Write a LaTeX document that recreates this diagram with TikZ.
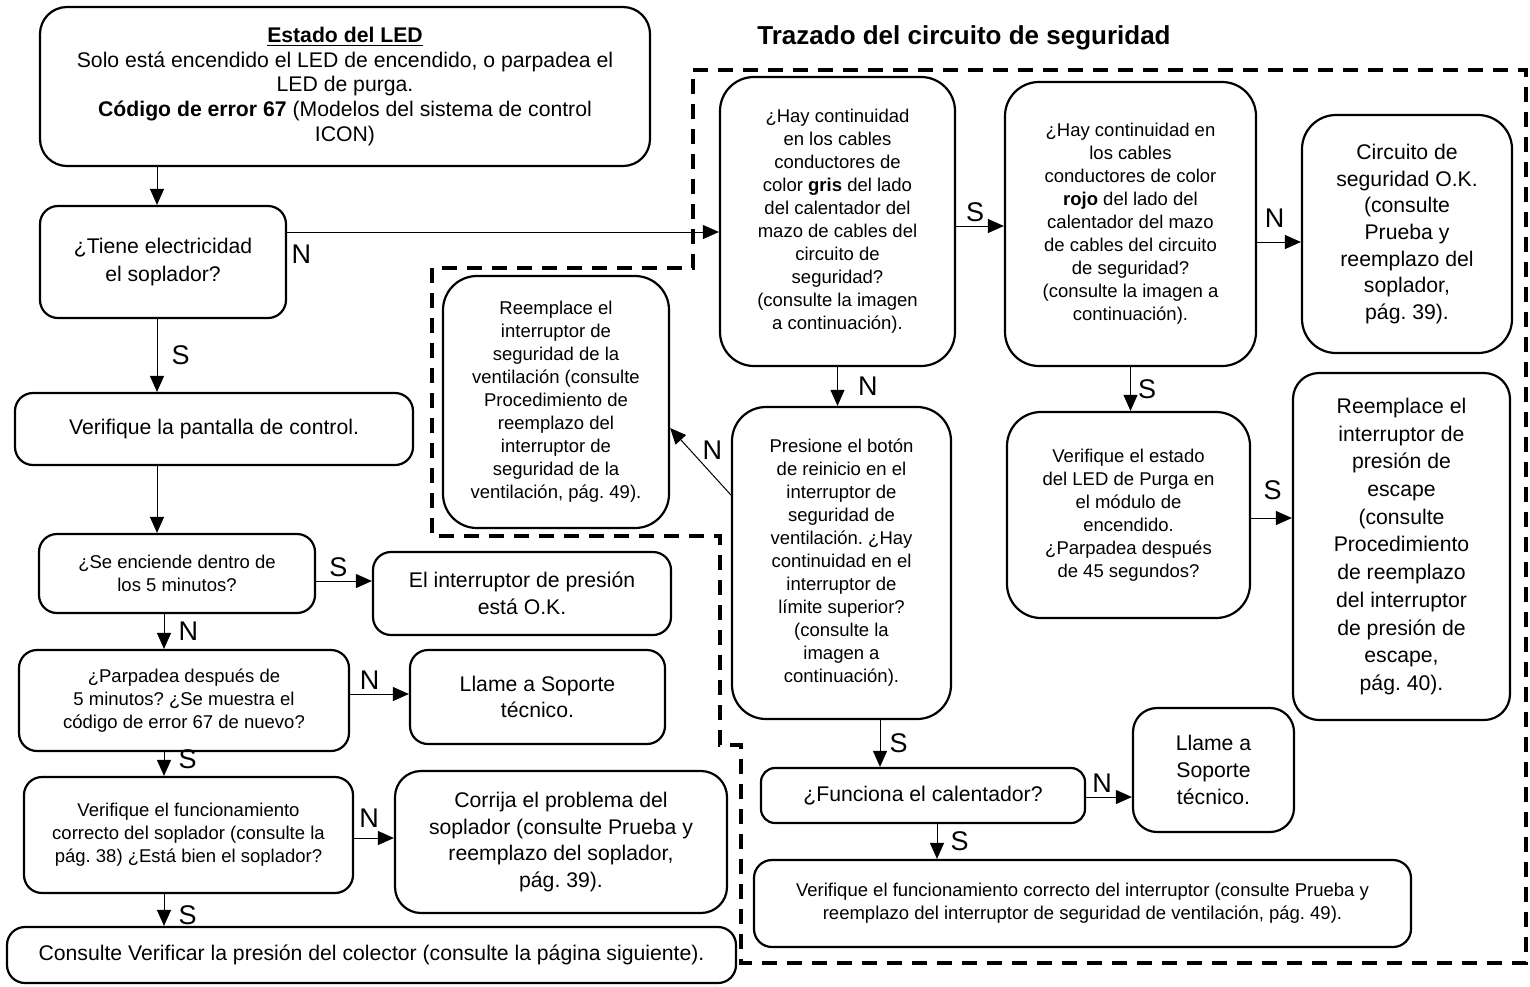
\documentclass[tikz,border=0pt]{standalone}
\usepackage{fontspec}
\setmainfont{Liberation Sans}
\frenchspacing
\usetikzlibrary{arrows.meta}
\tikzset{
  box/.style={rectangle, draw=black, line width=1.1pt, rounded corners=9pt,
              align=center, inner sep=2pt},
  tall/.style={rounded corners=17pt},
  big/.style={box, font=\fontsize{10.6pt}{13.3pt}\selectfont},
  small/.style={box, font=\fontsize{9.25pt}{11.5pt}\selectfont},
  arrow/.style={-{Triangle[length=8pt, width=7pt]}, draw=black, line width=0.5pt},
  yn/.style={font=\fontsize{13.5pt}{16pt}\selectfont, inner sep=2pt},
  zone/.style={draw=black, line width=2pt, dash pattern=on 7.5pt off 5pt},
  heading/.style={font=\fontsize{13pt}{16pt}\selectfont\bfseries},
}

\begin{document}
\begin{tikzpicture}[x=0.5pt, y=-0.5pt]
  \useasboundingbox (0,0) rectangle (1530,986);

  % Safety circuit area
  \node[heading, anchor=base] (title) at (964,44) {Trazado del circuito de seguridad};
  \draw[zone] (693,70) -- (1526,70) -- (1526,963) -- (741,963) -- (741,745)
    -- (720,745) -- (720,536) -- (432,536) -- (432,268) -- (693,268) -- cycle;

  % Main column
  \node[big, minimum width=305pt, minimum height=79.5pt, rounded corners=13.5pt,
        font=\fontsize{10.6pt}{12.35pt}\selectfont] (led) at (345,86.5)
    {\underline{\textbf{Estado del LED}}\\
     Solo está encendido el LED de encendido, o parpadea el\\
     LED de purga.\\
     \textbf{Código de error 67} (Modelos del sistema de control\\
     ICON)};
  \node[big, minimum width=123pt, minimum height=56pt,
        font=\fontsize{10.6pt}{14.2pt}\selectfont] (power) at (163,262)
    {¿Tiene electricidad\\el soplador?};
  \node[big, minimum width=199pt, minimum height=36pt] (display) at (214,429)
    {Verifique la pantalla de control.};
  \node[small, minimum width=138pt, minimum height=39.5pt] (startup) at (177,573.5)
    {¿Se enciende dentro de\\los 5 minutos?};
  \node[big, minimum width=149pt, minimum height=41.5pt] (pressok) at (522,593.5)
    {El interruptor de presión\\está O.K.};
  \node[small, minimum width=165pt, minimum height=50.5pt] (blink) at (184,700.5)
    {¿Parpadea después de\\5 minutos? ¿Se muestra el\\código de error 67 de nuevo?};
  \node[big, minimum width=127.5pt, minimum height=47pt] (callA) at (537.5,697)
    {Llame a Soporte\\técnico.};
  \node[small, minimum width=164.5pt, minimum height=58pt] (blower) at (188.5,835)
    {Verifique el funcionamiento\\correcto del soplador (consulte la\\pág. 38) ¿Está bien el soplador?};
  \node[big, minimum width=166pt, minimum height=71pt, rounded corners=13pt] (fixblower) at (561,842)
    {Corrija el problema del\\soplador (consulte Prueba y\\reemplazo del soplador,\\pág. 39).};
  \node[big, minimum width=364.5pt, minimum height=28pt] (manifold) at (371.5,955)
    {Consulte Verificar la presión del colector (consulte la página siguiente).};

  % Safety circuit checks
  \node[small, tall, minimum width=117.5pt, minimum height=144.5pt] (grey) at (837.5,221.5)
    {¿Hay continuidad\\en los cables\\conductores de\\color \textbf{gris} del lado\\del calentador del\\mazo de cables del\\circuito de\\seguridad?\\(consulte la imagen\\a continuación).};
  \node[small, tall, minimum width=125.5pt, minimum height=142pt] (red) at (1130.5,224)
    {¿Hay continuidad en\\los cables\\conductores de color\\\textbf{rojo} del lado del\\calentador del mazo\\de cables del circuito\\de seguridad?\\(consulte la imagen a\\continuación).};
  \node[big, tall, minimum width=105pt, minimum height=119pt] (circuitok) at (1407,234)
    {Circuito de\\seguridad O.K.\\(consulte\\Prueba y\\reemplazo del\\soplador,\\pág. 39).};
  \node[small, tall, minimum width=113pt, minimum height=126pt] (resetvent) at (556,402)
    {Reemplace el\\interruptor de\\seguridad de la\\ventilación (consulte\\Procedimiento de\\reemplazo del\\interruptor de\\seguridad de la\\ventilación, pág. 49).};
  \node[small, tall, minimum width=109.5pt, minimum height=156pt] (reset) at (841.5,563)
    {Presione el botón\\de reinicio en el\\interruptor de\\seguridad de\\ventilación. ¿Hay\\continuidad en el\\interruptor de\\límite superior?\\(consulte la\\imagen a\\continuación).};
  \node[small, tall, minimum width=121.5pt, minimum height=103pt] (purge) at (1128.5,515)
    {Verifique el estado\\del LED de Purga en\\el módulo de\\encendido.\\¿Parpadea después\\de 45 segundos?};
  \node[big, minimum width=108.5pt, minimum height=173.5pt, rounded corners=13pt,
        font=\fontsize{10.6pt}{13.85pt}\selectfont] (exhaust) at (1401.5,546.5)
    {Reemplace el\\interruptor de\\presión de\\escape\\(consulte\\Procedimiento\\de reemplazo\\del interruptor\\de presión de\\escape,\\pág. 40).};
  \node[big, minimum width=162pt, minimum height=27.5pt, rounded corners=7pt] (heater) at (923,795.5)
    {¿Funciona el calentador?};
  \node[big, minimum width=80.5pt, minimum height=62pt, rounded corners=12pt] (callB) at (1213.5,770)
    {Llame a\\Soporte\\técnico.};
  \node[small, minimum width=328.5pt, minimum height=43.5pt] (switchcheck) at (1082.5,903.5)
    {Verifique el funcionamiento correcto del interruptor (consulte Prueba y\\reemplazo del interruptor de seguridad de ventilación, pág. 49).};

  % Edges
  \coordinate (trunk) at (157,0);
  \coordinate (spine) at (164,0);
  \draw[arrow] (led.south -| trunk) -- (power.north -| trunk);
  \draw[arrow] (power.south -| trunk) -- node[yn, right, xshift=5pt] {S} (display.north -| trunk);
  \draw[arrow] (display.south -| trunk) -- (startup.north -| trunk);
  \draw[arrow] (startup.south -| spine) -- node[yn, right, xshift=5pt] {N} (blink.north -| spine);
  \draw[arrow] (blink.south -| spine) -- node[yn, right, pos=.3, xshift=5pt] {S} (blower.north -| spine);
  \draw[arrow] (blower.south -| spine) -- node[yn, right, pos=.65, xshift=5pt] {S} (manifold.north -| spine);

  \draw[arrow] ([yshift=15pt]power.east)
    -- node[yn, anchor=north west, pos=0, yshift=-4pt] {N} ([yshift=15pt]power.east -| grey.west);
  \draw[arrow] ([yshift=-3.75pt]startup.east)
    -- node[yn, above, pos=.4] {S} ([yshift=-3.75pt]startup.east -| pressok.west);
  \draw[arrow] ([yshift=3.25pt]blink.east)
    -- node[yn, above, pos=.33] {N} ([yshift=3.25pt]blink.east -| callA.west);
  \draw[arrow] ([yshift=-1.5pt]blower.east)
    -- node[yn, above, pos=.38, yshift=3pt] {N} ([yshift=-1.5pt]blower.east -| fixblower.west);

  % Safety circuit edges
  \draw[arrow] ([yshift=-2.25pt]grey.east)
    -- node[yn, above, pos=.4] {S} ([yshift=-2.25pt]grey.east -| red.west);
  \draw[arrow] ([yshift=-9pt]red.east)
    -- node[yn, above, pos=.4, yshift=5pt] {N} ([yshift=-9pt]red.east -| circuitok.west);
  \draw[arrow] (grey.south) -- node[yn, right, xshift=8pt] {N} (grey.south |- reset.north);
  \draw[arrow] ([yshift=34pt]reset.west) -- node[yn, right, pos=.67, xshift=4pt] {N} ([yshift=-13pt]resetvent.east);
  \draw[arrow] (red.south) -- node[yn, right, xshift=1.5pt] {S} (red.south |- purge.north);
  \draw[arrow] ([yshift=-1.5pt]purge.east)
    -- node[yn, above, pos=.53, yshift=7pt] {S} ([yshift=-1.5pt]purge.east -| exhaust.west);
  \draw[arrow] ([xshift=19.25pt]reset.south) -- node[yn, right, xshift=2.5pt] {S} ([xshift=19.25pt]reset.south |- heater.north);
  \draw[arrow] ([yshift=-0.75pt]heater.east)
    -- node[yn, above, pos=.35] {N} ([yshift=-0.75pt]heater.east -| callB.west);
  \draw[arrow] ([xshift=7pt]heater.south) -- node[yn, right, xshift=4.5pt] {S} ([xshift=7pt]heater.south |- switchcheck.north);

\end{tikzpicture}
\end{document}
